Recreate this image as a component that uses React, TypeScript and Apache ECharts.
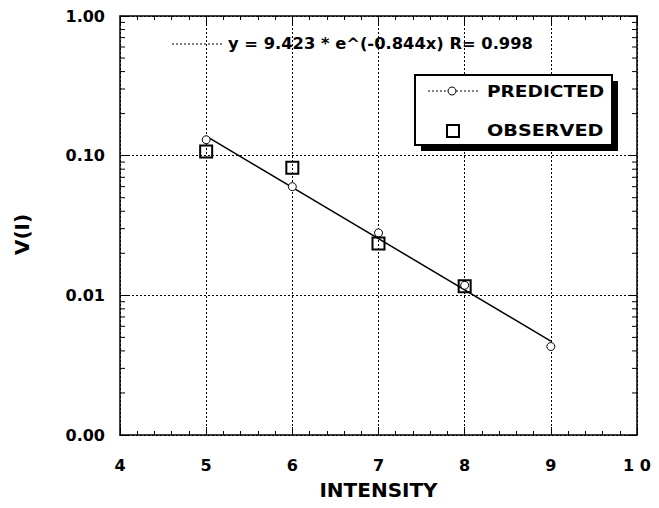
import React, { useEffect, useRef } from "react";
import * as echarts from "echarts";

const xTickValues = [4, 5, 6, 7, 8, 9, 10];
const yMinorValues = [
  0.002, 0.003, 0.004, 0.005, 0.006, 0.007, 0.008, 0.009,
  0.02, 0.03, 0.04, 0.05, 0.06, 0.07, 0.08, 0.09,
  0.2, 0.3, 0.4, 0.5, 0.6, 0.7, 0.8, 0.9,
];
const predictedX = [5, 6, 7, 8, 9];
const predictedY = [0.13, 0.06, 0.028, 0.0118, 0.0043];
const observedX = [5, 6, 7, 8];
const observedY = [0.107, 0.082, 0.0235, 0.0116];
const fitX = [5, 9];
const fitY = [0.138, 0.0047];
const fitLabel = "y = 9.423 * e^(-0.844x) R= 0.998";

const FONT = '"DejaVu Sans", "Liberation Sans", sans-serif';

export default function App() {
  const ref = useRef<HTMLDivElement>(null);
  useEffect(() => {
    if (!ref.current) return;
    const chart = echarts.init(ref.current, null, { renderer: "svg" });
    const labelStyle = {
      fontFamily: FONT,
      fontWeight: "bold" as const,
      fontSize: 16,
      color: "#000",
    };
    const dotted = { color: "#000", width: 1, type: [2, 2] as any };
    const baseX = {
      type: "value" as const,
      min: 4,
      max: 10,
      interval: 1,
      axisLine: { show: true, lineStyle: { color: "#000", width: 1.5 } },
      axisTick: { show: true, inside: true, length: 8, lineStyle: { color: "#000", width: 1 } },
      minorTick: { show: true, splitNumber: 5, length: 4, lineStyle: { color: "#000", width: 1 } },
    };
    const baseY = {
      type: "log" as const,
      logBase: 10,
      min: 0.001,
      max: 1,
      axisLine: { show: true, lineStyle: { color: "#000", width: 1.5 } },
      axisTick: { show: true, inside: true, length: 8, lineStyle: { color: "#000", width: 1 } },
    };
    const dotLine = { stroke: "#000", lineWidth: 1, lineDash: [2, 2] };
    chart.setOption({
      animation: false,
      backgroundColor: "#fff",
      grid: { left: 120, top: 16, right: 22, bottom: 73 },
      xAxis: [
        {
          ...baseX,
          position: "bottom",
          name: "INTENSITY",
          nameLocation: "middle",
          nameGap: 45,
          nameTextStyle: { fontFamily: FONT, fontWeight: "bold", fontSize: 20, color: "#000" },
          axisLabel: {
            ...labelStyle,
            margin: 22,
            formatter: (v: number) => (v === 10 ? "1 0" : String(v)),
          },
          splitLine: { show: true, lineStyle: dotted },
        },
        {
          ...baseX,
          position: "top",
          axisLabel: { show: false },
          splitLine: { show: false },
        },
      ],
      yAxis: [
        {
          ...baseY,
          position: "left",
          name: "V(I)",
          nameLocation: "middle",
          nameRotate: 90,
          nameGap: 88,
          nameTextStyle: { fontFamily: FONT, fontWeight: "bold", fontSize: 20, color: "#000", padding: [0, 18, 0, 0] },
          axisLabel: {
            ...labelStyle,
            margin: 15,
            formatter: (v: number) => Number(v).toFixed(2),
          },
          splitLine: { show: true, lineStyle: dotted },
        },
        {
          ...baseY,
          position: "right",
          axisLabel: { show: false },
          splitLine: { show: false },
        },
      ],
      series: [
        {
          type: "custom",
          silent: true,
          xAxisIndex: 0,
          yAxisIndex: 0,
          data: yMinorValues.map((v) => [4, v]),
          renderItem: (_p: any, api: any) => {
            const v = api.value(1);
            const l = api.coord([4, v]);
            const r = api.coord([10, v]);
            return {
              type: "group",
              children: [
                { type: "line", shape: { x1: l[0], y1: l[1], x2: l[0] + 5, y2: l[1] }, style: { stroke: "#000", lineWidth: 1 } },
                { type: "line", shape: { x1: r[0] - 5, y1: r[1], x2: r[0], y2: r[1] }, style: { stroke: "#000", lineWidth: 1 } },
              ],
            };
          },
        },
        {
          type: "line",
          name: "fit",
          data: fitX.map((x, i) => [x, fitY[i]]),
          showSymbol: false,
          symbol: "none",
          lineStyle: { color: "#000", width: 1.5 },
          z: 3,
        },
        {
          type: "scatter",
          name: "PREDICTED",
          data: predictedX.map((x, i) => [x, predictedY[i]]),
          symbol: "circle",
          symbolSize: 8,
          itemStyle: { color: "#fff", borderColor: "#000", borderWidth: 1, opacity: 1 },
          z: 4,
        },
        {
          type: "scatter",
          name: "OBSERVED",
          data: observedX.map((x, i) => [x, observedY[i]]),
          symbol: "rect",
          symbolSize: 12,
          itemStyle: { color: "rgba(255,255,255,0)", borderColor: "#000", borderWidth: 2, opacity: 1 },
          z: 5,
        },
      ],
      graphic: [
        { type: "line", z: 20, shape: { x1: 172, y1: 44, x2: 222, y2: 44 }, style: dotLine },
        {
          type: "text",
          z: 20,
          x: 228,
          y: 44,
          scaleX: 1.02,
          style: { text: fitLabel, font: `bold 16px ${FONT}`, fill: "#000", textAlign: "left", textVerticalAlign: "middle" },
        },
        { type: "rect", z: 20, shape: { x: 421, y: 81, width: 197, height: 70 }, style: { fill: "#000" } },
        { type: "rect", z: 21, shape: { x: 415, y: 75, width: 197, height: 70 }, style: { fill: "#fff", stroke: "#000", lineWidth: 2 } },
        { type: "line", z: 22, shape: { x1: 428, y1: 91, x2: 478, y2: 91 }, style: dotLine },
        { type: "circle", z: 23, shape: { cx: 452, cy: 91, r: 4 }, style: { fill: "#fff", stroke: "#000", lineWidth: 1 } },
        {
          type: "text",
          z: 22,
          x: 487,
          y: 91,
          scaleX: 1.16,
          style: { text: "PREDICTED", font: `bold 16px ${FONT}`, fill: "#000", textAlign: "left", textVerticalAlign: "middle" },
        },
        { type: "rect", z: 22, shape: { x: 447, y: 125, width: 12, height: 12 }, style: { fill: "#fff", stroke: "#000", lineWidth: 2 } },
        {
          type: "text",
          z: 22,
          x: 487,
          y: 131,
          scaleX: 1.2,
          style: { text: "OBSERVED", font: `bold 16px ${FONT}`, fill: "#000", textAlign: "left", textVerticalAlign: "middle" },
        },
      ],
    });
    return () => chart.dispose();
  }, []);
  return (
    <div
      ref={ref}
      style={{ position: "fixed", left: 0, top: 0, width: 659, height: 508, background: "#fff" }}
    />
  );
}
